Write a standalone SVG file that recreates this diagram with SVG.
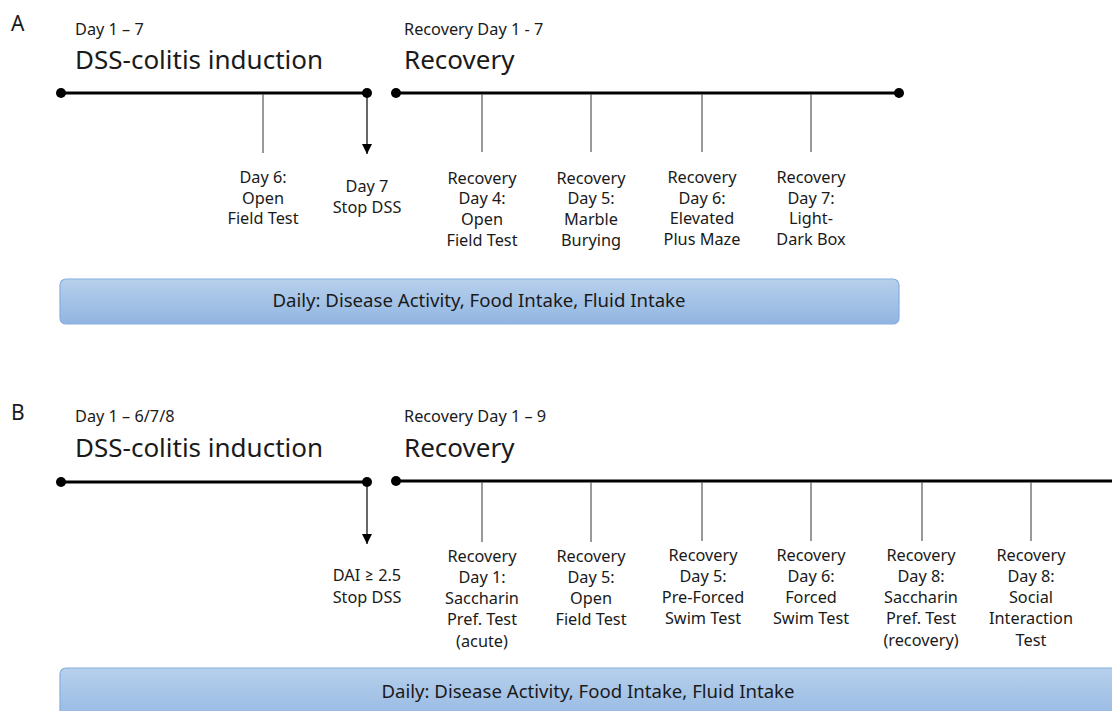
<svg xmlns="http://www.w3.org/2000/svg" width="1112" height="711" viewBox="0 0 1112 711">
<defs>
<linearGradient id="bg" x1="0" y1="0" x2="0" y2="1">
<stop offset="0" stop-color="#b7d0ec"/>
<stop offset="1" stop-color="#91b5e1"/>
</linearGradient>
<marker id="ah" viewBox="0 0 10 10" refX="10" refY="5" markerWidth="10" markerHeight="10" markerUnits="userSpaceOnUse" orient="auto">
<path d="M0,0 L10,5 L0,10 Z" fill="#000"/>
</marker>
<style>
text{font-family:"Noto Sans",Lato,"Liberation Sans",sans-serif;fill:#1a1a1a;font-variant-ligatures:none}
.lbl{font-size:16.3px;text-anchor:middle}
.hd{font-size:16.3px}
.big{font-size:26px}
.pn{font-size:21px}
.tl{stroke:#000;stroke-width:3;fill:none}
.tk{stroke:#555;stroke-width:1.2}
.ar{stroke:#000;stroke-width:1.2;marker-end:url(#ah)}
.box{fill:url(#bg);stroke:#86ade0;stroke-width:1.2}
.bx{font-size:18.6px;text-anchor:middle}
</style>
</defs>

<g id="panelA">
<text class="pn" x="11" y="31">A</text>
<text class="hd" x="75" y="35">Day 1 – 7</text>
<text class="big" x="75" y="69">DSS-colitis induction</text>
<text class="hd" x="404" y="35">Recovery Day 1 - 7</text>
<text class="big" x="404" y="69">Recovery</text>
</g>

<g id="connectors">
<line class="tl" x1="61" y1="93" x2="367" y2="93"/>
<line class="tl" x1="396" y1="93" x2="899" y2="93"/>
<circle cx="61" cy="93" r="5" fill="#000"/>
<circle cx="367" cy="93" r="5" fill="#000"/>
<circle cx="396" cy="93" r="5" fill="#000"/>
<circle cx="899" cy="93" r="5" fill="#000"/>
<line class="tk" x1="263" y1="94" x2="263" y2="153"/>
<line class="ar" x1="367" y1="96" x2="367" y2="154"/>
<line class="tk" x1="482" y1="94" x2="482" y2="152"/>
<line class="tk" x1="591" y1="94" x2="591" y2="152"/>
<line class="tk" x1="702" y1="94" x2="702" y2="152"/>
<line class="tk" x1="811" y1="94" x2="811" y2="152"/>

<line class="tl" x1="61" y1="482" x2="367" y2="482"/>
<line class="tl" x1="396" y1="481" x2="1118" y2="481"/>
<circle cx="61" cy="482" r="5" fill="#000"/>
<circle cx="367" cy="482" r="5" fill="#000"/>
<circle cx="396" cy="481" r="5" fill="#000"/>
<circle cx="1117" cy="481" r="5" fill="#000"/>
<line class="ar" x1="367" y1="485" x2="367" y2="544"/>
<line class="tk" x1="482" y1="482" x2="482" y2="542"/>
<line class="tk" x1="591" y1="482" x2="591" y2="542"/>
<line class="tk" x1="702" y1="482" x2="702" y2="541"/>
<line class="tk" x1="811" y1="482" x2="811" y2="541"/>
<line class="tk" x1="922" y1="482" x2="922" y2="541"/>
<line class="tk" x1="1031" y1="482" x2="1031" y2="541"/>
</g>

<g id="a-day6">
<text class="lbl" x="263" y="183">Day 6:</text>
<text class="lbl" x="263" y="204">Open</text>
<text class="lbl" x="263" y="224">Field Test</text>
</g>
<g id="a-day7">
<text class="lbl" x="367" y="192">Day 7</text>
<text class="lbl" x="367" y="213">Stop DSS</text>
</g>
<g id="a-rd4">
<text class="lbl" x="482" y="184">Recovery</text>
<text class="lbl" x="482" y="204">Day 4:</text>
<text class="lbl" x="482" y="225">Open</text>
<text class="lbl" x="482" y="246">Field Test</text>
</g>
<g id="a-rd5">
<text class="lbl" x="591" y="184">Recovery</text>
<text class="lbl" x="591" y="204">Day 5:</text>
<text class="lbl" x="591" y="225">Marble</text>
<text class="lbl" x="591" y="246">Burying</text>
</g>
<g id="a-rd6">
<text class="lbl" x="702" y="183">Recovery</text>
<text class="lbl" x="702" y="204">Day 6:</text>
<text class="lbl" x="702" y="224">Elevated</text>
<text class="lbl" x="702" y="245">Plus Maze</text>
</g>
<g id="a-rd7">
<text class="lbl" x="811" y="183">Recovery</text>
<text class="lbl" x="811" y="204">Day 7:</text>
<text class="lbl" x="811" y="224">Light-</text>
<text class="lbl" x="811" y="245">Dark Box</text>
</g>
<g id="a-daily">
<rect class="box" x="60" y="279" width="839" height="45" rx="6"/>
<text class="bx" x="479" y="307">Daily: Disease Activity, Food Intake, Fluid Intake</text>
</g>

<g id="panelB">
<text class="pn" x="11" y="420">B</text>
<text class="hd" x="75" y="422">Day 1 – 6/7/8</text>
<text class="big" x="75" y="457">DSS-colitis induction</text>
<text class="hd" x="404" y="422">Recovery Day 1 – 9</text>
<text class="big" x="404" y="457">Recovery</text>
</g>
<g id="b-dai">
<text class="lbl" x="367" y="581">DAI ≥ 2.5</text>
<text class="lbl" x="367" y="603">Stop DSS</text>
</g>
<g id="b-rd1">
<text class="lbl" x="482" y="562">Recovery</text>
<text class="lbl" x="482" y="583">Day 1:</text>
<text class="lbl" x="482" y="604">Saccharin</text>
<text class="lbl" x="482" y="625">Pref. Test</text>
<text class="lbl" x="482" y="647">(acute)</text>
</g>
<g id="b-rd5a">
<text class="lbl" x="591" y="562">Recovery</text>
<text class="lbl" x="591" y="583">Day 5:</text>
<text class="lbl" x="591" y="604">Open</text>
<text class="lbl" x="591" y="625">Field Test</text>
</g>
<g id="b-rd5b">
<text class="lbl" x="703" y="561">Recovery</text>
<text class="lbl" x="703" y="582">Day 5:</text>
<text class="lbl" x="703" y="603">Pre-Forced</text>
<text class="lbl" x="703" y="624">Swim Test</text>
</g>
<g id="b-rd6">
<text class="lbl" x="811" y="561">Recovery</text>
<text class="lbl" x="811" y="582">Day 6:</text>
<text class="lbl" x="811" y="603">Forced</text>
<text class="lbl" x="811" y="624">Swim Test</text>
</g>
<g id="b-rd8a">
<text class="lbl" x="921" y="561">Recovery</text>
<text class="lbl" x="921" y="582">Day 8:</text>
<text class="lbl" x="921" y="603">Saccharin</text>
<text class="lbl" x="921" y="624">Pref. Test</text>
<text class="lbl" x="921" y="646">(recovery)</text>
</g>
<g id="b-rd8b">
<text class="lbl" x="1031" y="561">Recovery</text>
<text class="lbl" x="1031" y="582">Day 8:</text>
<text class="lbl" x="1031" y="603">Social</text>
<text class="lbl" x="1031" y="624">Interaction</text>
<text class="lbl" x="1031" y="646">Test</text>
</g>
<g id="b-daily">
<rect class="box" x="60" y="668" width="1070" height="60" rx="6"/>
<text class="bx" x="588" y="698">Daily: Disease Activity, Food Intake, Fluid Intake</text>
</g>
</svg>
